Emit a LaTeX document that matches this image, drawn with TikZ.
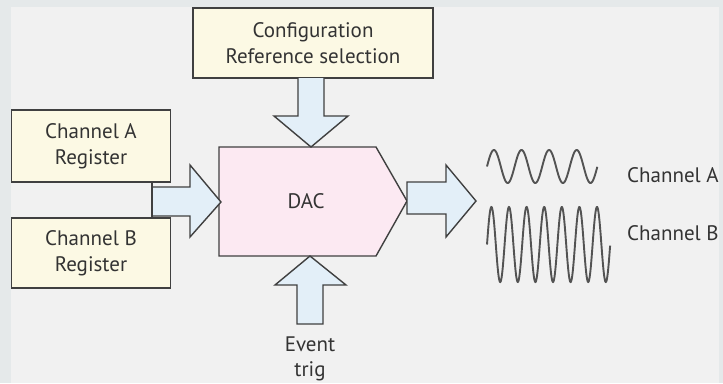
\documentclass[tikz,border=0pt]{standalone}
\usepackage{fontspec}
\setmainfont{PT Sans}
\definecolor{bgout}{HTML}{E5E9EA}
\definecolor{bgin}{HTML}{F1F1F1}
\definecolor{cream}{HTML}{FCF9E4}
\definecolor{pinkf}{HTML}{FCE9F2}
\definecolor{bluef}{HTML}{E3EFF8}
\definecolor{edge}{HTML}{404040}
\definecolor{txt}{HTML}{333333}
\begin{document}
\begin{tikzpicture}[x=1pt,y=-1pt,
  every node/.style={font=\fontsize{21}{25.5}\selectfont, text=txt, align=center, inner sep=0pt},
  regbox/.style={draw=edge, line width=1.4pt, fill=cream},
  blockarrow/.style={draw=edge, line width=1.4pt, fill=bluef, line join=miter},
  wave/.style={draw=edge!90, line width=1.9pt},
  lbl/.style={anchor=west}]
\useasboundingbox (0,0) rectangle (723,383);
\fill[bgout] (0,0) rectangle (723,383);
\fill[bgin] (11,7) rectangle (719,383);
% boxes
\node[regbox, minimum width=240pt, minimum height=70pt] (cfg) at (313,43) {Configuration\\Reference selection};
\node[regbox, minimum width=159pt, minimum height=72pt] (cha) at (91,146) {Channel A\\Register};
\node[regbox, minimum width=159pt, minimum height=70pt] (chb) at (91,253) {Channel B\\Register};
% DAC
\draw[line width=1.4pt, draw=edge, fill=pinkf, line join=miter] (219,147) -- (376,147) -- (407,201) -- (376,256) -- (219,256) -- cycle;
\node (dac) at (306,201) {DAC};
% top arrow
\fill[bluef] (298,78) -- (298,116) -- (274,116) -- (311,147) -- (348,116) -- (324,116) -- (324,78) -- cycle;
\draw[draw=edge, line width=1.4pt, line join=miter] (298,78) -- (298,116) -- (274,116) -- (311,147) -- (348,116) -- (324,116) -- (324,78);
% left arrow
\draw[blockarrow] (152,187) -- (190,187) -- (190,165) -- (221,202) -- (190,237) -- (190,216) -- (152,216) -- cycle;
\draw[draw=edge, line width=1.4pt] (152,182) -- (152,218);
% right arrow
\draw[blockarrow] (407,182) -- (446,182) -- (446,165) -- (476,201) -- (446,237) -- (446,214) -- (407,214) -- cycle;
% bottom arrow
\draw[blockarrow] (297,324) -- (297,285) -- (275,285) -- (310,256) -- (346,285) -- (323,285) -- (323,324) -- cycle;
\node (ev) at (310,359) {Event\\trig};
% waves
\draw[wave] plot[domain=0:4, samples=240, smooth] ({487+27.6*\x},{166.5-16.5*sin(360*\x)});
\draw[wave] plot[domain=0:7, samples=400, smooth] ({487+17.6*\x},{244.5-37.5*sin(360*\x)});
\node[lbl] (la) at (627,175) {Channel A};
\node[lbl] (lb) at (627,233) {Channel B};
\end{tikzpicture}
\end{document}
